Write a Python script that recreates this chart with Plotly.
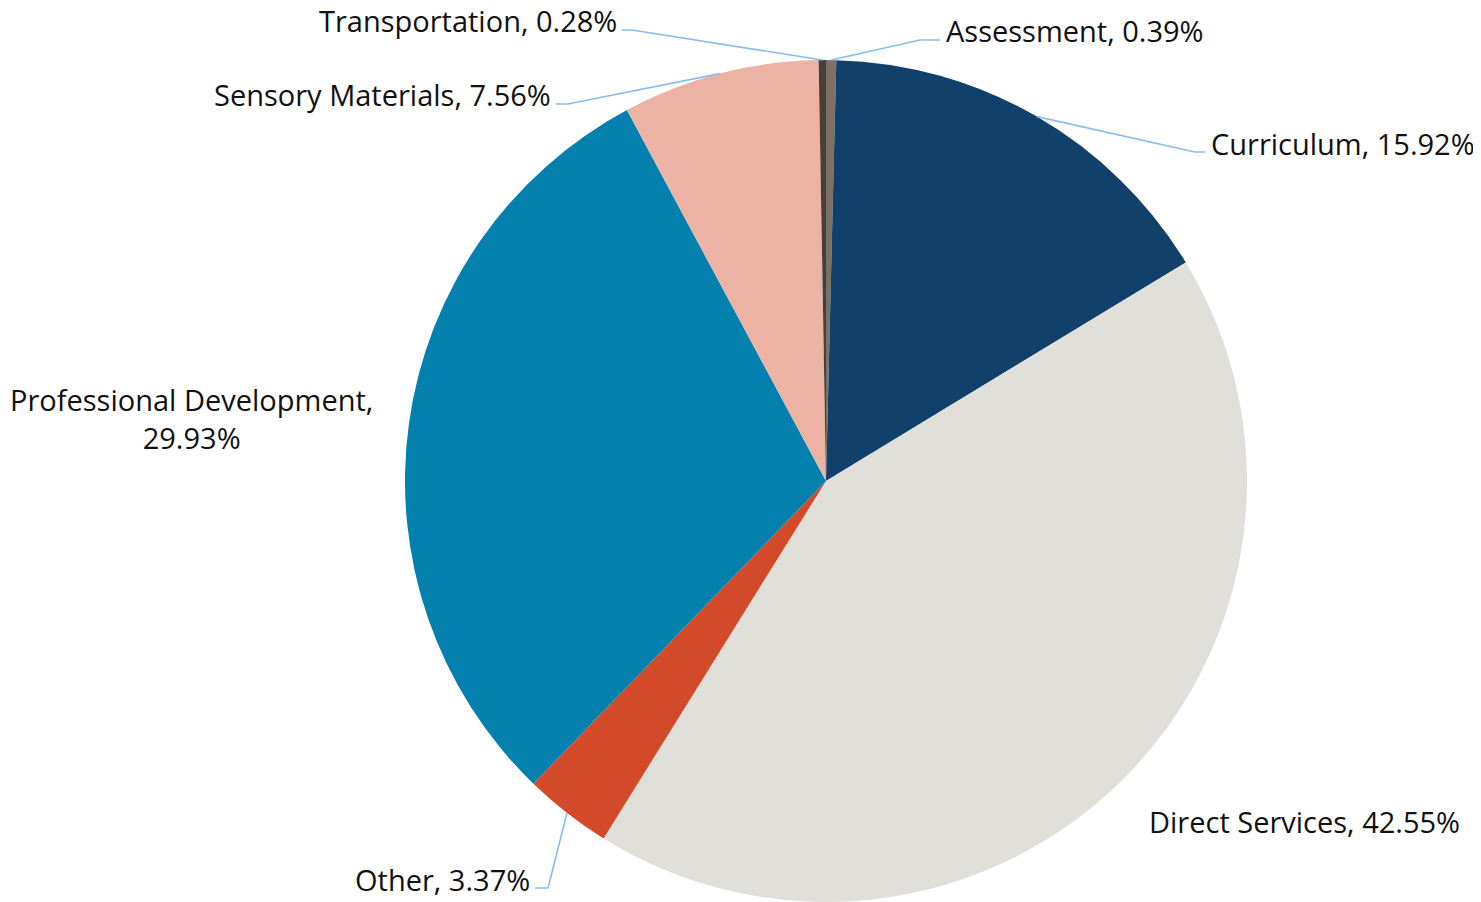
import math
import plotly.graph_objects as go

categories = ["Assessment", "Curriculum", "Direct Services", "Other",
              "Professional Development", "Sensory Materials", "Transportation"]
values = [0.39, 15.92, 42.55, 3.37, 29.93, 7.56, 0.28]
colors = ["#7d7166", "#11406a", "#e1dfda", "#d34a28", "#0380ae", "#ecb3a5", "#45403a"]

W, H = 1481, 902
OFF = 8  # page body margin
CX, CY, R = 826, 481, 421  # pie centre / radius in page pixels

def px(x, y):
    return (x - OFF) / W, 1 - (y - OFF) / H

fig = go.Figure(go.Pie(
    labels=categories, values=values, sort=False, direction="clockwise",
    rotation=0, marker=dict(colors=colors, line=dict(width=0)),
    textinfo="none", hoverinfo="label+percent", showlegend=False,
    domain=dict(x=[(CX - R - OFF) / W, (CX + R - OFF) / W],
                y=[1 - (CY + R - OFF) / H, 1 - (CY - R - OFF) / H]),
))

total = sum(values)
mids = []
acc = 0
for v in values:
    mids.append((acc + v / 2) / total * 2 * math.pi)
    acc += v

def edge(i):
    a = mids[i]
    return CX + R * math.sin(a), CY - R * math.cos(a)

label_layout = {
    "Assessment": (945, 30, "left", [(920, 40), (940, 40)]),
    "Curriculum": (1210, 143, "left", [(1195, 152), (1205, 152)]),
    "Direct Services": (1148, 821, "left", None),
    "Other": (531, 879, "right", [(548, 888), (535, 888)]),
    "Professional Development": (191, 418, "center", None),
    "Sensory Materials": (552, 94, "right", [(568, 104), (556, 104)]),
    "Transportation": (618, 21, "right", [(632, 30), (622, 30)]),
}

font = dict(family="Open Sans, Noto Sans, sans-serif", size=29, color="#111111")
annotations = []
shapes = []
for i, (cat, val) in enumerate(zip(categories, values)):
    x, y, xa, elbow = label_layout[cat]
    if cat == "Professional Development":
        text = f"{cat},<br>{val:.2f}%"
    else:
        text = f"{cat}, {val:.2f}%"
    ax, ay = px(x, y)
    annotations.append(dict(text=text, x=ax, y=ay, xref="paper", yref="paper",
                            xanchor=xa, yanchor="middle", showarrow=False,
                            font=font, align="center", borderpad=0))
    if elbow:
        pts = [edge(i)] + elbow
        path = "M " + " L ".join(
            f"{(p[0]-OFF)/W:.5f},{1 - (p[1]-OFF)/H:.5f}" for p in pts)
        shapes.append(dict(type="path", path=path, xref="paper", yref="paper",
                           line=dict(color="#86bdf0", width=1.6)))

fig.update_layout(width=W, height=H, margin=dict(l=0, r=0, t=0, b=0),
                  paper_bgcolor="white", plot_bgcolor="white",
                  annotations=annotations, shapes=shapes)
fig.write_html("out.html")
